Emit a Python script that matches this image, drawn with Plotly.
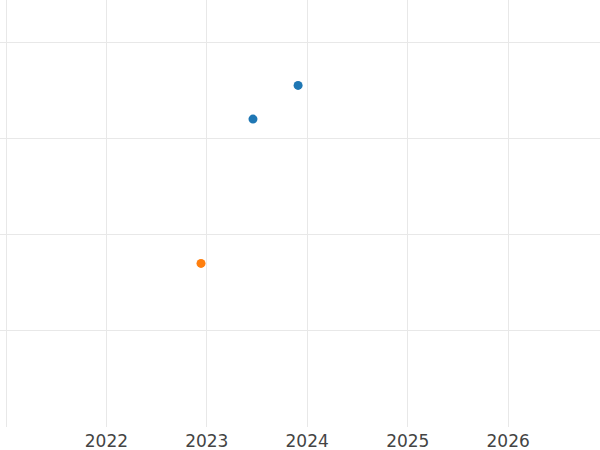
import plotly.graph_objects as go

# Data
series_a_dates = ["2023-06-18", "2023-11-29"]
series_a_values = [3.2, 3.55]
series_b_dates = ["2022-12-11"]
series_b_values = [1.7]

x_range = ["2020-12-10", "2026-12-01"]
y_range = [0, 4.4375]

fig = go.Figure()
fig.add_trace(go.Scatter(x=series_a_dates, y=series_a_values, mode="markers",
                         marker=dict(color="#1f77b4", size=9), name="A"))
fig.add_trace(go.Scatter(x=series_b_dates, y=series_b_values, mode="markers",
                         marker=dict(color="#ff7f0e", size=9), name="B"))

fig.update_layout(
    width=600, height=450,
    margin=dict(l=0, r=0, t=0, b=23, autoexpand=False),
    plot_bgcolor="white", paper_bgcolor="white",
    showlegend=False,
    font=dict(family="DejaVu Sans", size=17, color="#444"),
    xaxis=dict(range=x_range, type="date", dtick="M12", tickformat="%Y",
               showgrid=True, gridcolor="#e8e8e8", gridwidth=1.3,
               zeroline=False, showline=False, ticks="", automargin=False,
               ticklabelstandoff=2),
    yaxis=dict(range=y_range, dtick=1, showgrid=True, gridcolor="#e8e8e8",
               gridwidth=1.3, zeroline=False, showline=False, ticks="",
               showticklabels=False, automargin=False),
)

fig.write_html("out.html", config={"displayModeBar": False},
               post_script="document.body.style.margin='0';")
